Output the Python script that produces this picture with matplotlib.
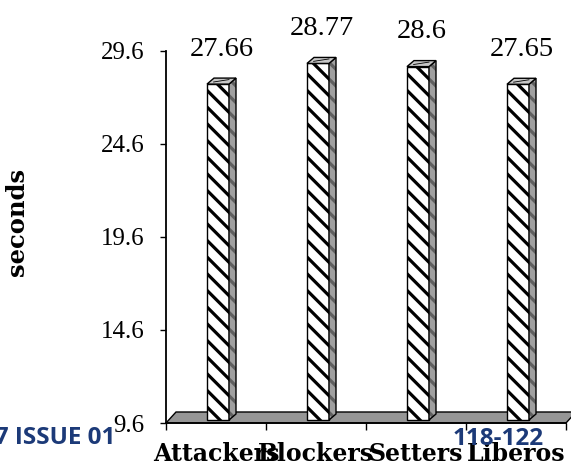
import numpy as np
import matplotlib
matplotlib.use('Agg')
from matplotlib import pyplot as plt
from matplotlib.patches import Polygon

positions = ['Attackers', 'Blockers', 'Setters', 'Liberos']
times = [27.66, 28.77, 28.6, 27.65]
yticks = [9.6, 14.6, 19.6, 24.6, 29.6]
ytick_labels = ['9.6', '14.6', '19.6', '24.6', '29.6']

plt.rcParams['hatch.linewidth'] = 2.3

fig = plt.figure(figsize=(5.71, 4.66), dpi=100)
ax = fig.add_axes([166 / 571, 43 / 466, 400 / 571, 372 / 466])
ax.set_xlim(0, len(positions))
ax.set_ylim(yticks[0], yticks[-1])

# pixels per data unit, used for the fake depth
bb = ax.get_window_extent()
ux = bb.width / len(positions)
uy = bb.height / (yticks[-1] - yticks[0])

# floor
fdx, fdy = 10 / ux, 11 / uy
y0 = yticks[0]
floor = Polygon([(0, y0), (len(positions), y0),
                 (len(positions) + fdx, y0 + fdy), (fdx, y0 + fdy)],
                closed=True, facecolor='#969696', edgecolor='black',
                lw=1, clip_on=False, zorder=1)
ax.add_patch(floor)

# bars: front face, side and top
lift = 3 / uy
bdx, bdy = 7 / ux, 6 / uy
w = 0.22
xs = np.arange(len(positions)) + 0.52
base = y0 + lift
tops = np.array(times) + lift
ax.bar(xs, tops - base, width=w, bottom=base, facecolor='white',
       edgecolor='black', hatch='\\\\', lw=1, zorder=3)

for x, t in zip(xs, tops):
    xl, xr = x - w / 2, x + w / 2
    side = [(xr, base), (xr, t), (xr + bdx, t + bdy), (xr + bdx, base + bdy)]
    ax.add_patch(Polygon(side, closed=True, facecolor='#a0a0a0',
                         edgecolor='#606060', hatch='\\\\', lw=0,
                         clip_on=False, zorder=3))
    ax.add_patch(Polygon(side, closed=True, fill=False, edgecolor='black',
                         lw=1, clip_on=False, zorder=4))
    top = [(xl, t), (xr, t), (xr + bdx, t + bdy), (xl + bdx, t + bdy)]
    ax.add_patch(Polygon(top, closed=True, facecolor='#c8c8c8',
                         edgecolor='black', lw=1, clip_on=False, zorder=4))
    ax.plot([xl + 0.3 * w, xr], [t + 0.35 * bdy, t + 0.75 * bdy],
            color='black', lw=0.6, clip_on=False, zorder=5)

for x, v, t in zip(xs, times, tops):
    ax.annotate(f'{v:g}', (x + bdx / 2, t), xytext=(0, 20.5),
                textcoords='offset points', ha='center', va='baseline',
                family='Liberation Serif', fontsize=20.5, annotation_clip=False)

# axes styling
for s in ['top', 'right']:
    ax.spines[s].set_visible(False)
ax.spines['left'].set_linewidth(1.3)
ax.spines['bottom'].set_linewidth(1.3)
ax.spines['bottom'].set_zorder(2)

ax.set_yticks(yticks)
ax.set_yticklabels(ytick_labels, family='Liberation Serif', fontsize=18)
ax.tick_params(axis='y', direction='out', length=4.5, width=1, pad=11)

ax.set_xticks(np.arange(len(positions) + 1))
ax.set_xticklabels([])
ax.tick_params(axis='x', which='major', direction='out', length=5, width=1)
ax.set_xticks(np.arange(len(positions)) + 0.5, minor=True)
ax.set_xticklabels(positions, minor=True, family='DejaVu Serif',
                   fontweight='bold', fontsize=17)
ax.tick_params(axis='x', which='minor', length=0, pad=14)

ax.set_ylabel('seconds', family='DejaVu Serif', fontweight='bold', fontsize=17.5)
ax.yaxis.set_label_coords(-0.343, 0.54)

# page footer text showing through
fig.text(115 / 571, 1 - 444 / 466, '07 ISSUE 01', ha='right', va='baseline',
         family='Open Sans', fontweight='bold', fontsize=17.5, color='#1c3a78')
fig.text(498 / 571, 1 - 445 / 466, '118-122', ha='center', va='baseline',
         family='Open Sans', fontweight='bold', fontsize=17.5, color='#1c3a78')

fig.savefig('out.png', dpi=100)
